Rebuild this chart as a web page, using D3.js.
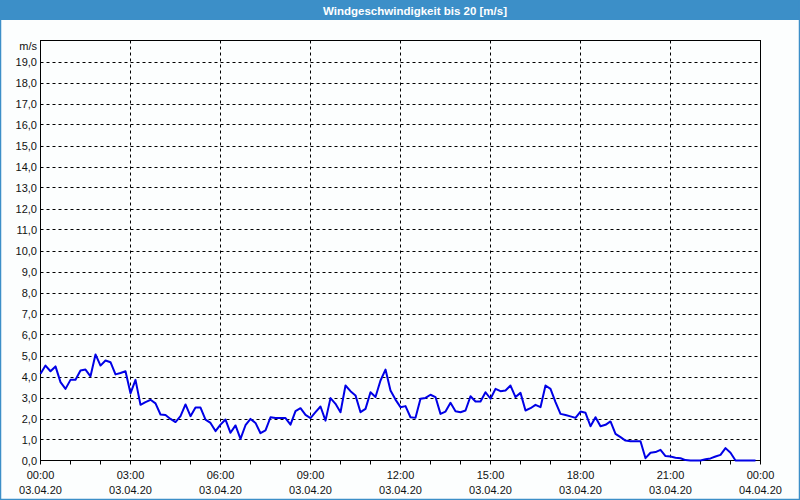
<!DOCTYPE html>
<html><head><meta charset="utf-8">
<script src="https://cdn.jsdelivr.net/npm/d3@7"></script>
<style>
html,body{margin:0;padding:0;background:#fff;}
svg{display:block;}
text{font-family:"Liberation Sans",Arial,sans-serif;}
</style></head>
<body><svg id="c" width="800" height="500"></svg>
<script>
const title = "Windgeschwindigkeit bis 20 [m/s]";
const unitLabel = "m/s";
const startTime = "2020-04-03T00:00:00";
const endTime = "2020-04-04T00:00:00";
const stepMinutes = 10;
// wind speed [m/s], one value every 10 minutes from 00:00
const speed = [
 4.13,4.52,4.25,4.48,3.73,3.41,3.84,3.85,4.29,4.33,4.01,5.05,4.52,4.76,4.68,4.10,4.17,4.25,3.20,3.84,
 2.65,2.78,2.89,2.72,2.19,2.17,1.98,1.83,2.11,2.67,2.11,2.52,2.52,1.95,1.79,1.40,1.71,1.95,1.32,1.67,
 1.03,1.68,1.98,1.79,1.30,1.43,2.06,2.02,2.02,2.02,1.71,2.35,2.49,2.17,2.02,2.30,2.57,1.90,2.97,2.70,
 2.30,3.57,3.30,3.10,2.30,2.46,3.25,3.02,3.81,4.33,3.33,2.90,2.54,2.59,2.06,2.03,2.94,2.98,3.13,3.02,
 2.22,2.33,2.75,2.35,2.30,2.38,3.06,2.81,2.81,3.25,2.94,3.41,3.30,3.33,3.57,3.02,3.22,2.38,2.49,2.65,
 2.54,3.57,3.41,2.78,2.22,2.17,2.10,2.03,2.33,2.27,1.63,2.06,1.63,1.70,1.86,1.27,1.11,0.95,0.92,0.92,
 0.92,0.11,0.37,0.40,0.51,0.21,0.19,0.13,0.11,0.02,0.00,0.00,0.00,0.06,0.10,0.19,0.27,0.59,0.37,0.00,
 0.00,0.00,0.00,0.00
];
const yTicks = [0,1,2,3,4,5,6,7,8,9,10,11,12,13,14,15,16,17,18,19];
const yMax = 20;
const xTickHours = 3;

const svg = d3.select("#c");
const W = 800, H = 500;
const m = {l:40.5, r:760.5, t:40.5, b:460.5};

svg.append("rect").attr("x",0).attr("y",0).attr("width",W).attr("height",H).attr("fill","#fcfefe");
// title bar
svg.append("rect").attr("x",0).attr("y",0).attr("width",W).attr("height",20).attr("fill","#3c8fc8");
svg.append("text").attr("x",415).attr("y",14.5).attr("text-anchor","middle")
  .attr("fill","#fff").attr("font-weight","bold").attr("font-size","11.5px").text(title);
// outer frame
svg.append("rect").attr("x",0.5).attr("y",0.5).attr("width",W-1).attr("height",H-1)
  .attr("fill","none").attr("stroke","#3c8fc8").attr("stroke-width",1.5);

const t0 = new Date(startTime), t1 = new Date(endTime);
const data = speed.map((v,i)=>({t:d3.timeMinute.offset(t0,i*stepMinutes), v}));

const x = d3.scaleTime().domain([t0,t1]).range([m.l,m.r]);
const y = d3.scaleLinear().domain([0,yMax]).range([m.b,m.t]);

const loc = d3.formatLocale({decimal:",",thousands:".",grouping:[3],currency:["","€"]});
const fy = loc.format(".1f");

// horizontal grid
const g = svg.append("g");
g.selectAll("line.hg").data(yTicks.filter(d=>d>0)).join("line")
  .attr("x1",m.l).attr("x2",m.r).attr("y1",d=>Math.round(y(d))+0.5).attr("y2",d=>Math.round(y(d))+0.5)
  .attr("stroke","#000").attr("stroke-width",1).attr("stroke-dasharray","3,3");
// vertical grid
const majorTicks = d3.timeHour.every(xTickHours).range(t0, d3.timeMinute.offset(t1,1));
g.selectAll("line.vg").data(majorTicks.filter(d=>+d!==+t0 && +d!==+t1)).join("line")
  .attr("x1",d=>x(d)).attr("x2",d=>x(d)).attr("y1",m.t).attr("y2",m.b)
  .attr("stroke","#000").attr("stroke-width",1).attr("stroke-dasharray","3,3");

// minor hour ticks below axis
const hourTicks = d3.timeHour.every(1).range(t0, d3.timeMinute.offset(t1,1));
g.selectAll("line.tk").data(hourTicks).join("line")
  .attr("x1",d=>x(d)).attr("x2",d=>x(d)).attr("y1",m.b).attr("y2",m.b+4)
  .attr("stroke","#000").attr("stroke-width",1);

// frame
svg.append("rect").attr("x",m.l).attr("y",m.t).attr("width",m.r-m.l).attr("height",m.b-m.t)
  .attr("fill","none").attr("stroke","#000").attr("stroke-width",1);

// y labels
svg.selectAll("text.yl").data(yTicks).join("text")
  .attr("x",37).attr("y",d=>y(d)+4).attr("text-anchor","end")
  .attr("font-size","11px").attr("fill","#111").text(d=>fy(d));
svg.append("text").attr("x",37).attr("y",50).attr("text-anchor","end")
  .attr("font-size","11px").attr("fill","#111").text(unitLabel);

// x labels
const fT = d3.timeFormat("%H:%M"), fD = d3.timeFormat("%d.%m.%y");
const xl = svg.selectAll("g.xl").data(majorTicks).join("g");
xl.append("text").attr("x",d=>x(d)).attr("y",479).attr("text-anchor","middle")
  .attr("font-size","11px").attr("fill","#111").text(d=>fT(d));
xl.append("text").attr("x",d=>x(d)).attr("y",494).attr("text-anchor","middle")
  .attr("font-size","11px").attr("fill","#111").text(d=>fD(d));

// line
const line = d3.line().x(d=>x(d.t)).y(d=>y(d.v));
svg.append("path").datum(data).attr("d",line).attr("fill","none")
  .attr("stroke","#0000e6").attr("stroke-width",2).attr("stroke-linejoin","round");
</script></body></html>
